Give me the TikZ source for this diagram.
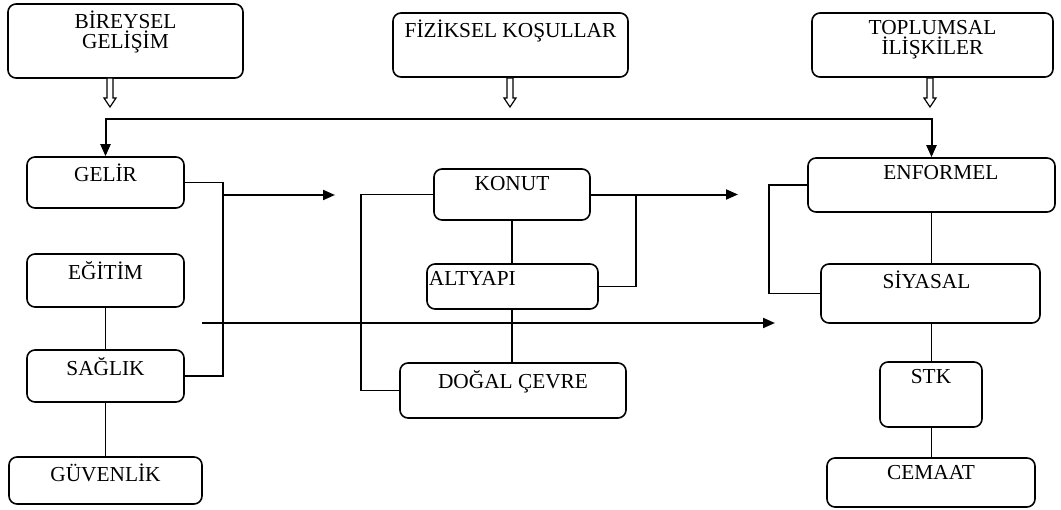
\documentclass[tikz,border=0pt]{standalone}
\usepackage{fontspec}
\setmainfont{Liberation Serif}
\usetikzlibrary{fit,arrows.meta}
\tikzset{
  box/.style={draw, rounded corners=6pt, line width=1.2pt, inner sep=0pt},
  lbl/.style={anchor=north, yshift=-2.5pt, align=center},
  link/.style={line width=1.1pt},
  flow/.style={line width=1.5pt, -{Triangle[length=9pt,width=7.5pt]}},
  bus/.style={line width=1.5pt, {Triangle[length=9pt,width=7.5pt]}-{Triangle[length=9pt,width=7.5pt]}},
  hollow/.style={draw, line width=0.9pt, fill=white}
}

\begin{document}
\begin{tikzpicture}[x=0.75pt, y=-0.75pt, font=\fontsize{16}{15}\selectfont]
\useasboundingbox (0,0) rectangle (1061,510);
% ust kutular
\node[box, fit={(8,4) (243,78)}, label={[lbl]north:BİREYSEL\\GELİŞİM}] (bir) {};
\node[box, fit={(393,13) (628,77)}, label={[lbl]north:FİZİKSEL KOŞULLAR}] (fiz) {};
\node[box, fit={(812,13) (1053,77)}, label={[lbl]north:TOPLUMSAL\\İLİŞKİLER}] (top) {};
\foreach \x in {110,510,930}
  \draw[hollow] (\x-3,78) -- (\x-3,98) -- (\x-6,98) -- (\x,107) -- (\x+6,98) -- (\x+3,98) -- (\x+3,78) -- cycle;
% sol sutun
\node[box, fit={(27,157) (184,208)}, label={[lbl]north:GELİR}] (gelir) {};
\node[box, fit={(27,254) (184,307)}, label={[lbl]north:EĞİTİM}] (egi) {};
\node[box, fit={(27,350) (184,402)}, label={[lbl]north:SAĞLIK}] (sag) {};
\node[box, fit={(9,457) (202,504)}, label={[lbl]north:GÜVENLİK}] (guv) {};
% orta sutun
\node[box, fit={(434,169) (590,220)}, label={[lbl]north:KONUT}] (konut) {};
\node[box, fit={(427,264) (598,309)}, label={[lbl, anchor=north west, xshift=-1.5pt]north west:ALTYAPI}] (alt) {};
\node[box, fit={(400,363) (626,418)}, label={[lbl]north:DOĞAL ÇEVRE}] (dogal) {};
% sag sutun
\node[box, fit={(808,158) (1055,212)}, label={[lbl, xshift=7pt]north:ENFORMEL}] (enf) {};
\node[box, fit={(821,264) (1040,323)}, label={[lbl, xshift=-3pt]north:SİYASAL}] (siy) {};
\node[box, fit={(880,362) (982,427)}, label={[lbl]north:STK}] (stk) {};
\node[box, fit={(827,458) (1035,507)}, label={[lbl]north:CEMAAT}] (cem) {};
% baglantilar
\draw[bus] (gelir.north) |- (500,119) -| (enf.north);
\coordinate (j1) at (223,195);
\coordinate (t1) at (335,195);
\draw[link] (gelir.east) -| (j1) |- (sag.east);
\draw[flow] (j1) -- (t1);
\draw[link] (egi) -- (sag);
\draw[link] (sag) -- (guv);
\coordinate (s2) at (202,323);
\coordinate (t2) at (775,323);
\draw[flow] (s2) -- (t2);
\draw[link] (konut.west) -| (361,300) |- (dogal.west);
\draw[link] (konut.south) -- (konut.south |- alt.north);
\draw[link] (konut.south |- alt.south) -- (konut.south |- dogal.north);
\coordinate (t3) at (738,194.5);
\draw[flow] (konut.east) -- (t3);
\draw[link] (alt.east) -| (636,194.5);
\draw[link] (enf.west) -| (769,240) |- (siy.west);
\draw[link] (enf.south) -- (enf.south |- siy.north);
\draw[link] (enf.south |- siy.south) -- (enf.south |- stk.north);
\draw[link] (enf.south |- stk.south) -- (enf.south |- cem.north);
\end{tikzpicture}
\end{document}
